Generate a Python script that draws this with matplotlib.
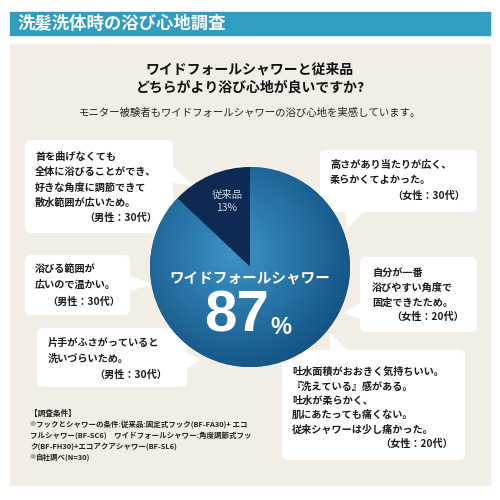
import numpy as np
import matplotlib
matplotlib.use("Agg")
import matplotlib.pyplot as plt
from matplotlib.patches import FancyBboxPatch, Polygon, Rectangle

plt.rcParams['font.family'] = ['Noto Sans CJK JP', 'DejaVu Sans']

# ---- data ----
title = "洗髪洗体時の浴び心地調査"
question = ["ワイドフォールシャワーと従来品", "どちらがより浴び心地が良いですか?"]
subtitle = "モニター被験者もワイドフォールシャワーの浴び心地を実感しています。"
categories = ["従来品", "ワイドフォールシャワー"]
shares = [13, 87]
comments = [
    ["首を曲げなくても", "全体に浴びることができ、", "好きな角度に調節できて", "散水範囲が広いため。", "（男性：30代）"],
    ["浴びる範囲が", "広いので温かい。", "（男性：30代）"],
    ["片手がふさがっていると", "洗いづらいため。", "（男性：30代）"],
    ["高さがあり当たりが広く、", "柔らかくてよかった。", "（女性：30代）"],
    ["自分が一番", "浴びやすい角度で", "固定できたため。", "（女性：20代）"],
    ["吐水面積がおおきく気持ちいい。", "『洗えている』感がある。", "吐水が柔らかく、", "肌にあたっても痛くない。",
     "従来シャワーは少し痛かった。", "（女性：20代）"],
]
notes_head = "【調査条件】"
notes = [
    ["フックとシャワーの条件:従来品:固定式フック(BF-FA30)+ エコ",
     "フルシャワー(BF-SC6)　ワイドフォールシャワー:角度調節式フッ",
     "ク(BF-FH30)+エコアクアシャワー(BF-SL6)"],
    ["自社調べ(N=30)"],
]

# ---- layout (pixel coords, y down) ----
fig = plt.figure(figsize=(5, 5), dpi=100)
ax = fig.add_axes([0, 0, 1, 1])
ax.set_xlim(0, 500)
ax.set_ylim(500, 0)
ax.axis('off')

ax.add_patch(Rectangle((10, 12), 480, 23, color='#2f9ec0', zorder=1))
ax.text(17, 23.5, title, color='white', fontsize=12.5, fontweight='bold', va='center', ha='left', zorder=2)
ax.add_patch(Rectangle((10, 44), 480, 441, color='#f3eee5', zorder=1))

ax.text(250, 70, question[0], fontsize=10, fontweight='bold', ha='center', va='center', color='#111111', zorder=2)
ax.text(250, 88, question[1], fontsize=10, fontweight='bold', ha='center', va='center', color='#111111', zorder=2)
ax.text(250, 113, subtitle, fontsize=7.5, ha='center', va='center', color='#222222', zorder=2)

# bubbles: box (x0, y0, x1, y1), tail polygon, text left x, first line y, line step, right x for last line
bubbles = [
    ((25, 140, 173, 233), [(170, 164), (170, 182), (195, 187)], 35, 157, 15.3, 157),
    ((25, 255, 130, 315), [(127, 275), (127, 292), (152, 284)], 35, 269, 16.3, 120),
    ((37, 328, 187, 387), [(184, 351), (184, 370), (202, 360)], 48, 343, 16.0, 167),
    ((320, 150, 477, 212), [(345, 209), (366, 209), (347, 229)], 330, 165, 15.5, 465),
    ((360, 257, 477, 332), [(363, 301), (363, 320), (344, 313)], 372, 273, 14.8, 464),
    ((282, 350, 465, 460), [(330, 353), (350, 353), (330, 333)], 292, 372, 14.3, 453),
]
for (box, tail, tx, ty, step, rx), lines in zip(bubbles, comments):
    x0, y0, x1, y1 = box
    ax.add_patch(FancyBboxPatch((x0 + 6, y0 + 6), x1 - x0 - 12, y1 - y0 - 12,
                                boxstyle="round,pad=6", fc='white', ec='none', zorder=2))
    ax.add_patch(Polygon(tail, closed=True, fc='white', ec='none', zorder=2))
    for i, ln in enumerate(lines):
        y = ty + i * step
        if i == len(lines) - 1 and ln.startswith('（'):
            ax.text(rx, y, ln, fontsize=7.3, ha='right', va='center', color='#1a1a1a',
                    fontweight='bold', zorder=3)
        else:
            ax.text(tx, y, ln, fontsize=7.3, ha='left', va='center', color='#1a1a1a',
                    fontweight='bold', zorder=3)

# notes
ax.text(30, 413, notes_head, fontsize=5.5, ha='left', va='center', color='#222222', fontweight='bold', zorder=3)
ny = 424
for block in notes:
    for j, ln in enumerate(block):
        if j == 0:
            ax.text(30, ny, "●", fontsize=4.5, ha='left', va='center', color='#aaaaaa', zorder=3)
        ax.text(36 if j == 0 else 30, ny, ln, fontsize=5.4, ha='left', va='center', color='#222222',
                fontweight='bold', zorder=3)
        ny += 11

# ---- pie ----
cx, cy, r = 250, 267, 100
pax = fig.add_axes([(cx - r) / 500, 1 - (cy + r) / 500, 2 * r / 500, 2 * r / 500])
pax.set_zorder(5)
pax.patch.set_alpha(0)
wedges, _ = pax.pie(shares, startangle=90, counterclock=True, radius=1,
                    colors=['#0d2b52', '#1d6496'], wedgeprops=dict(linewidth=0))
pax.set_xlim(-1, 1)
pax.set_ylim(-1, 1)
pax.set_aspect('equal')
pax.axis('off')

n = 400
xs = np.linspace(-1, 1, n)
X, Y = np.meshgrid(xs, xs)
D = np.sqrt((X + 0.15) ** 2 + (Y - 0.15) ** 2)
t = np.clip(D / 1.2, 0, 1)
c0 = np.array([0x3e, 0x94, 0xc8]) / 255
c1 = np.array([0x14, 0x55, 0x86]) / 255
img = c0[None, None, :] * (1 - t[..., None]) + c1[None, None, :] * t[..., None]
im = pax.imshow(img, extent=(-1, 1, -1, 1), origin='lower', zorder=2)
im.set_clip_path(wedges[1])

pax.text(-0.23, 0.72, categories[0], fontsize=7.5, color='#c9d4e2', ha='center', va='center', zorder=4)
pax.text(-0.23, 0.59, f"{shares[0]}%", fontsize=7.5, color='#c9d4e2', ha='center', va='center', zorder=4)
pax.text(0.0, -0.11, categories[1], fontsize=10.5, fontweight='bold', color='white', ha='center', va='center', zorder=4)
pax.text(0.19, -0.50, f"{shares[1]}", fontsize=42, fontweight='bold', color='white', ha='right', va='center',
         zorder=4, family=['Liberation Sans', 'DejaVu Sans'])
pax.text(0.2, -0.60, "%", fontsize=17, fontweight='bold', color='white', ha='left', va='center',
         zorder=4, family=['Liberation Sans', 'DejaVu Sans'])

fig.savefig("out.png", dpi=100)
